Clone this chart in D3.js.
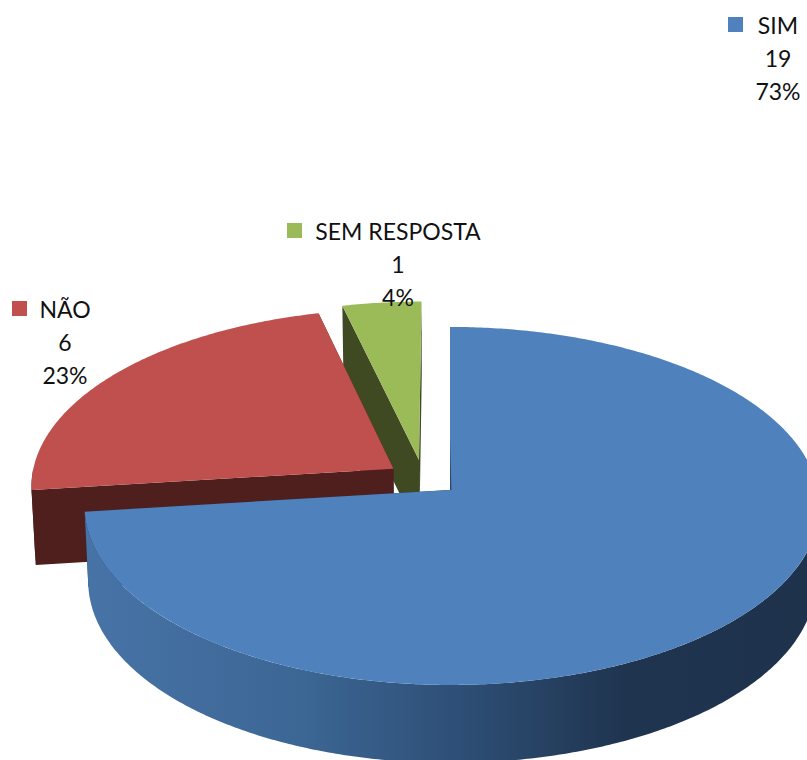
<!DOCTYPE html>
<html>
<head>
<meta charset="utf-8">
<script src="https://cdn.jsdelivr.net/npm/d3@7/dist/d3.min.js"></script>
<style>
    html, body { margin: 0; padding: 0; background: #fff; overflow: hidden; }
    svg { display: block; }
    text { font-family: Lato, "Open Sans", sans-serif; font-size: 23px; fill: #111; text-anchor: middle; }
</style>
</head>
<body>
<svg id="chart" width="807" height="760"></svg>
<script>
// Chart data
var categories = ['SIM', 'NÃO', 'SEM RESPOSTA'];
var values = [19, 6, 1];
var percents = ['73%', '23%', '4%'];

var faceColors = ['#4f81bd', '#c0504d', '#9bbb59'];
var wallColors = ['url(#wallBlue)', '#4f1f1e', '#3f4a23'];

// Pull-out of each slice, in pie radius units (x, y)
var explode = [[0, 0], [-0.157, -0.121], [-0.0865, -0.1715]];

// Label block: key square corner, text centre and first baseline
var labelPos = [
    { key: [728, 17], textX: 778, base: 34 },
    { key: [12, 301], textX: 65, base: 318 },
    { key: [287, 223], textX: 398, base: 240 }
];

var svg = d3.select('#chart');

// Pie layout, clockwise from the top
var pie = d3.pie().sort(null).startAngle(0).endAngle(2 * Math.PI);
var slices = pie(values);

/* Projection */
/* ********** */
var perspective = 0.089;
var xScale = d3.scaleLinear().domain([-1, 0, 1]).range([86, 450, 818]);
var yScale = d3.scaleLinear().domain([0, 1]).range([490, 490 + 177.6]);

// Projects a point of the pie plane to the screen; lower=true gives the bottom rim
var project = function(u, v, lower) {
    var den = 1 - perspective * v;
    var shrink = lower ? 0.99 : 1;
    var drop = lower ? 75 + 3 * v : 0;
    return [xScale(u * shrink / den), yScale(v / den) + drop];
};

var rimPoint = function(a, off, lower) {
    return project(off[0] + Math.sin(a), off[1] - Math.cos(a), lower);
};

var rimPoints = function(a0, a1, off, lower) {
    var n = Math.max(2, Math.ceil((a1 - a0) / 0.01));
    return d3.range(n + 1).map(function(i) {
        return rimPoint(a0 + (a1 - a0) * i / n, off, lower);
    });
};

var line = d3.line();
var closedPath = function(pts) { return line(pts) + 'Z'; };

/* Gradient of the outer wall */
/* ************************** */
var grad = svg.append('defs').append('linearGradient')
    .attr('id', 'wallBlue')
    .attr('gradientUnits', 'userSpaceOnUse')
    .attr('x1', 85).attr('x2', 807).attr('y1', 0).attr('y2', 0);
[[0, '#4773a7'], [0.3, '#3c6694'], [0.5, '#2f5179'], [0.75, '#1f344f'], [1, '#1e324c']].forEach(function(s) {
    grad.append('stop').attr('offset', s[0]).attr('stop-color', s[1]);
});

/* Slices, back to front */
/* ********************* */
[2, 1, 0].forEach(function(i) {
    var d = slices[i];
    var off = explode[i];
    var apexTop = project(off[0], off[1], false);
    var apexLow = project(off[0], off[1], true);
    var g = svg.append('g').attr('class', 'slice');

    // Cut faces
    [d.startAngle, d.endAngle].forEach(function(a) {
        g.append('path')
            .attr('d', closedPath([apexTop, rimPoint(a, off, false), rimPoint(a, off, true), apexLow]))
            .attr('fill', i === 0 ? '#1f344f' : wallColors[i]);
    });

    // Outer wall, only the part that faces the viewer
    var wallFrom = Math.max(d.startAngle, Math.PI / 2);
    var wallTo = Math.min(d.endAngle, 3 * Math.PI / 2);
    if (wallFrom < wallTo) {
        var upper = rimPoints(wallFrom, wallTo, off, false);
        var lowerRim = rimPoints(wallFrom, wallTo, off, true).reverse();
        g.append('path').attr('d', closedPath(upper.concat(lowerRim))).attr('fill', wallColors[i]);
    }

    // Top face
    g.append('path')
        .attr('d', closedPath([apexTop].concat(rimPoints(d.startAngle, d.endAngle, off, false))))
        .attr('fill', faceColors[i]);
});

// Thin dark edge next to the blue slice's cut, it shows through near the centre
svg.append('path')
    .attr('d', closedPath([project(0, -0.3, false), project(0, 0, false), project(0.004, 0, false)]))
    .attr('fill', '#2a4a72');

/* Labels */
/* ****** */
categories.forEach(function(name, i) {
    var p = labelPos[i];
    svg.append('rect')
        .attr('x', p.key[0]).attr('y', p.key[1])
        .attr('width', 15).attr('height', 15)
        .attr('fill', faceColors[i]);
    [name, values[i], percents[i]].forEach(function(t, j) {
        svg.append('text')
            .attr('x', p.textX)
            .attr('y', p.base + j * 33)
            .text(t);
    });
});
</script>
</body>
</html>
